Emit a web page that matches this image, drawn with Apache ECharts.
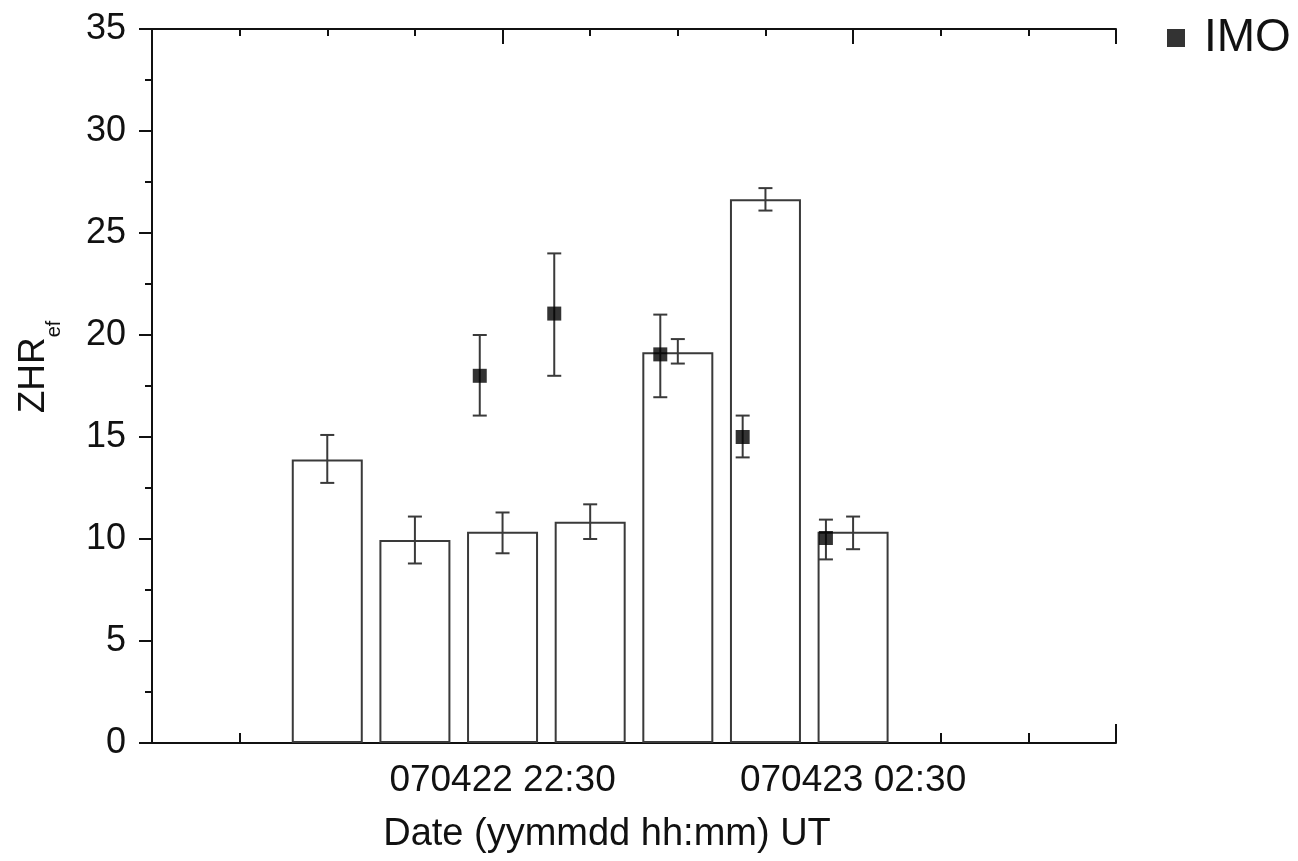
<!DOCTYPE html>
<html>
<head>
<meta charset="utf-8">
<script src="https://cdn.jsdelivr.net/npm/echarts@6/dist/echarts.min.js"></script>
<style>html,body{margin:0;padding:0;background:#fff}#c{width:1298px;height:861px}</style>
</head>
<body>
<div id="c"></div>
<script>
// hours since 070422 18:30 UT
var barHours = [2, 3, 4, 5, 6, 7, 8];
var barValues = [13.9, 9.95, 10.35, 10.85, 19.15, 26.65, 10.35];
var barErrLow = [12.75, 8.8, 9.3, 10.0, 18.6, 26.1, 9.5];
var barErrHigh = [15.1, 11.1, 11.3, 11.7, 19.8, 27.2, 11.1];

var imoHours = [3.74, 4.59, 5.80, 6.74, 7.69];
var imoValues = [18.0, 21.05, 19.05, 15.0, 10.05];
var imoErrLow = [16.05, 18.0, 16.95, 14.0, 9.0];
var imoErrHigh = [20.0, 24.0, 21.0, 16.05, 10.95];

var xTickLabels = {4: '070422 22:30', 8: '070423 02:30'};
var yMin = 0, yMax = 35, yStep = 5;
var xMin = 0, xMax = 11;

var FONT = 'Arial, "Liberation Sans", sans-serif';

function errData(xs, lo, hi) {
  return xs.map(function (x, i) { return [x, lo[i], hi[i]]; });
}
function errRender(capHalf, color) {
  return function (params, api) {
    var x = api.value(0);
    var p1 = api.coord([x, api.value(1)]);
    var p2 = api.coord([x, api.value(2)]);
    var st = { stroke: color, lineWidth: 2 };
    return {
      type: 'group',
      children: [
        { type: 'line', shape: { x1: p1[0], y1: p1[1], x2: p2[0], y2: p2[1] }, style: st },
        { type: 'line', shape: { x1: p1[0] - capHalf, y1: p1[1], x2: p1[0] + capHalf, y2: p1[1] }, style: st },
        { type: 'line', shape: { x1: p2[0] - capHalf, y1: p2[1], x2: p2[0] + capHalf, y2: p2[1] }, style: st }
      ]
    };
  };
}

var axisLine = { show: true, lineStyle: { color: '#111', width: 2 } };
var tickStyle = { color: '#111', width: 2 };

var chart = echarts.init(document.getElementById('c'), null, { renderer: 'canvas' });
chart.setOption({
  animation: false,
  backgroundColor: '#fff',
  grid: { left: 152, right: 182, top: 29, bottom: 118, containLabel: false },
  legend: {
    data: [{ name: 'IMO', icon: 'rect' }],
    left: 1162, top: 10,
    itemWidth: 18, itemHeight: 18,
    textStyle: { fontFamily: FONT, fontSize: 46, color: '#111', padding: [0, 0, 0, 14] }
  },
  xAxis: [
    { // bottom, minor hourly ticks
      type: 'value', position: 'bottom', min: xMin, max: xMax, interval: 1,
      axisLine: axisLine, splitLine: { show: false },
      axisTick: { show: true, inside: true, length: 10, lineStyle: tickStyle },
      axisLabel: { show: false }
    },
    { // bottom, major ticks + labels
      type: 'value', position: 'bottom', min: xMin, max: xMax, interval: 4,
      axisLine: { show: false }, splitLine: { show: false },
      axisTick: { show: true, inside: true, length: 19, lineStyle: tickStyle },
      axisLabel: {
        show: true, margin: 19, color: '#111', fontFamily: FONT, fontSize: 37,
        formatter: function (v) { return xTickLabels[v] || ''; }
      },
      name: 'Date (yymmdd hh:mm) UT', nameLocation: 'middle', nameGap: 73,
      nameTextStyle: { fontFamily: FONT, fontSize: 38, color: '#111', padding: [0, 54, 0, 0] }
    },
    { // top minor
      type: 'value', position: 'top', min: xMin, max: xMax, interval: 1,
      axisLine: axisLine, splitLine: { show: false },
      axisTick: { show: true, inside: true, length: 7, lineStyle: tickStyle },
      axisLabel: { show: false }
    },
    { // top major
      type: 'value', position: 'top', min: xMin, max: xMax, interval: 4,
      axisLine: { show: false }, splitLine: { show: false },
      axisTick: { show: true, inside: true, length: 15, lineStyle: tickStyle },
      axisLabel: { show: false }
    }
  ],
  yAxis: [
    {
      type: 'value', position: 'left', min: yMin, max: yMax, interval: yStep,
      axisLine: axisLine, splitLine: { show: false },
      axisTick: { show: true, inside: false, length: 13, lineStyle: tickStyle },
      minorTick: { show: true, splitNumber: 2, length: 7, lineStyle: tickStyle },
      axisLabel: { margin: 26, color: '#111', fontFamily: FONT, fontSize: 36 },
      name: '{m|ZHR}{s|ef}', nameLocation: 'middle', nameGap: 100, nameRotate: 90,
      nameTextStyle: {
        padding: [0, 0, 0, 38],
        rich: {
          m: { fontFamily: FONT, fontSize: 37, color: '#111', verticalAlign: 'bottom', lineHeight: 40 },
          s: { fontFamily: FONT, fontSize: 20, color: '#111', verticalAlign: 'bottom', lineHeight: 28, padding: [0, 0, -12, 0] }
        }
      }
    },
    {
      type: 'value', position: 'right', min: yMin, max: yMax, interval: yStep,
      axisLine: axisLine, splitLine: { show: false },
      axisTick: { show: true, inside: true, length: 12, lineStyle: tickStyle },
      minorTick: { show: true, splitNumber: 2, length: 7, lineStyle: tickStyle },
      axisLabel: { show: false }
    }
  ],
  series: [
    {
      type: 'bar', name: 'bars', xAxisIndex: 0, yAxisIndex: 0,
      barWidth: 71, z: 2,
      itemStyle: { color: '#fff', borderColor: '#3a3a3a', borderWidth: 2 },
      data: barHours.map(function (x, i) { return [x, barValues[i]]; })
    },
    {
      type: 'custom', name: 'barErr', xAxisIndex: 0, yAxisIndex: 0, z: 3,
      renderItem: errRender(7, '#3a3a3a'),
      data: errData(barHours, barErrLow, barErrHigh)
    },
    {
      type: 'custom', name: 'imoErr', xAxisIndex: 0, yAxisIndex: 0, z: 4,
      renderItem: errRender(7, '#3a3a3a'),
      data: errData(imoHours, imoErrLow, imoErrHigh)
    },
    {
      type: 'scatter', name: 'IMO', xAxisIndex: 0, yAxisIndex: 0, z: 5,
      symbol: 'rect', symbolSize: 14,
      itemStyle: { color: '#000' },
      data: imoHours.map(function (x, i) { return [x, imoValues[i]]; })
    }
  ]
});
</script>
</body>
</html>
